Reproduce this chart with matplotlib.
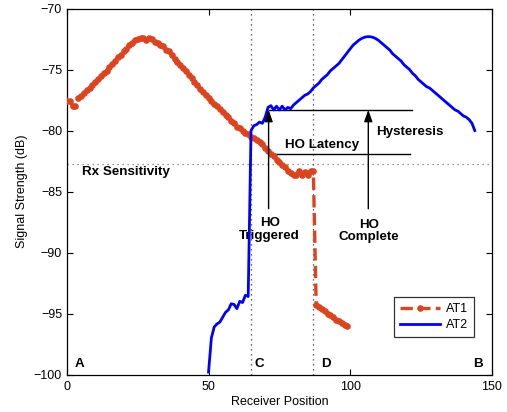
import matplotlib
matplotlib.use("Agg")
import matplotlib.pyplot as plt

plt.rcParams['font.family'] = ['Liberation Sans', 'DejaVu Sans']

# AT1 (serving antenna) samples
at1_x = list(range(0, 88)) + list(range(88, 100))
at1_y = [-77.6, -77.6, -78.0, -78.0, -77.3, -77.2, -76.9, -76.7, -76.5, -76.3,
         -76.0, -75.8, -75.5, -75.3, -75.1, -74.8, -74.5, -74.3, -74.0, -73.8,
         -73.5, -73.3, -73.0, -72.8, -72.6, -72.5, -72.4, -72.4, -72.6, -72.4,
         -72.5, -72.7, -72.8, -73.0, -73.1, -73.4, -73.5, -73.8, -74.1, -74.4,
         -74.6, -74.9, -75.1, -75.4, -75.7, -76.0, -76.3, -76.6, -76.8, -77.1,
         -77.3, -77.6, -77.8, -78.0, -78.2, -78.5, -78.7, -78.9, -79.2, -79.4,
         -79.7, -79.8, -80.0, -80.2, -80.3, -80.5, -80.6, -80.8, -80.9, -81.1,
         -81.4, -81.7, -81.9, -82.1, -82.4, -82.6, -82.8, -83.0, -83.3, -83.5,
         -83.6, -83.6, -83.3, -83.6, -83.4, -83.6, -83.3, -83.3,
         -94.3, -94.5, -94.6, -94.8, -95.0, -95.1, -95.3, -95.5, -95.6, -95.8,
         -95.9, -96.0]

# AT2 (target antenna) samples
at2_x = list(range(50, 145))
at2_y = [-99.8, -97.0, -96.1, -95.85, -95.7, -95.3, -94.9, -94.7, -94.2, -94.25,
         -94.6, -94.0, -94.1, -93.5, -93.6, -80.0, -79.6, -79.5, -79.3, -79.4,
         -78.9, -78.1, -77.95, -78.3, -78.0, -78.3, -78.0, -78.3, -78.1, -78.2,
         -77.9, -77.7, -77.5, -77.3, -77.1, -77.0, -76.8, -76.5, -76.3, -76.1,
         -75.8, -75.6, -75.4, -75.1, -74.9, -74.7, -74.5, -74.2, -73.9, -73.6,
         -73.3, -73.0, -72.8, -72.6, -72.45, -72.35, -72.3, -72.3, -72.35, -72.45,
         -72.6, -72.8, -73.0, -73.2, -73.4, -73.7, -73.9, -74.1, -74.3, -74.6,
         -74.8, -75.0, -75.3, -75.5, -75.8, -76.0, -76.2, -76.4, -76.5, -76.7,
         -76.9, -77.1, -77.3, -77.5, -77.7, -77.9, -78.1, -78.3, -78.4, -78.6,
         -78.8, -78.9, -79.1, -79.4, -80.0]

series_labels = ['AT1', 'AT2']
x_ticks = [0, 50, 100, 150]
y_ticks = [-100, -95, -90, -85, -80, -75, -70]
rx_sensitivity = -82.7
pos_C = 65
pos_D = 87
hysteresis_level = -78.3
latency_level = -81.9
ho_trigger_x = 71.2
ho_complete_x = 106.4

red = '#DC4420'
blue = '#0000FF'

fig = plt.figure(figsize=(5.07, 4.12), dpi=100)
ax = fig.add_axes([0.132, 0.091, 0.838, 0.888])

# reference lines
ax.axhline(rx_sensitivity, color='0.45', linestyle=(0, (1, 3)), linewidth=0.9, zorder=1)
ax.axvline(pos_C, color='0.2', linestyle=(0, (1, 3)), linewidth=0.9, zorder=1)
ax.axvline(pos_D, color='0.2', linestyle=(0, (1, 3)), linewidth=0.9, zorder=1)

ax.plot(at1_x, at1_y, linestyle='--', color=red, linewidth=2.4, marker='.',
        markersize=7.5, label=series_labels[0], zorder=3)
ax.plot(at2_x, at2_y, linestyle='-', color=blue, linewidth=2.0,
        label=series_labels[1], zorder=4)

# annotation lines
ax.plot([ho_trigger_x, 122], [hysteresis_level, hysteresis_level], color='k', linewidth=1.0, zorder=2)
ax.plot([ho_trigger_x, 121], [latency_level, latency_level], color='k', linewidth=1.0, zorder=2)

arrow_kw = dict(arrowstyle='-|>,head_length=0.7,head_width=0.25', color='k',
                linewidth=1.0, shrinkA=0, shrinkB=0)
ax.annotate('', xy=(ho_trigger_x, hysteresis_level), xytext=(ho_trigger_x, -86.4),
            arrowprops=arrow_kw, zorder=5)
ax.annotate('', xy=(ho_complete_x, hysteresis_level), xytext=(ho_complete_x, -86.4),
            arrowprops=arrow_kw, zorder=5)

bold = dict(fontsize=9.6, fontweight='bold')
ax.text(71.6, -88.1, 'HO\nTriggered', ha='center', va='center', linespacing=1.05, **bold)
ax.text(106.6, -88.25, 'HO\nComplete', ha='center', va='center', linespacing=1.05, **bold)
ax.text(109, -80.1, 'Hysteresis', ha='left', va='center', **bold)
ax.text(90.2, -81.2, 'HO Latency', ha='center', va='center', **bold)
ax.text(5.2, -83.4, 'Rx Sensitivity', ha='left', va='center', **bold)
ax.text(4.6, -99.1, 'A', ha='center', va='center', **bold)
ax.text(67.8, -99.1, 'C', ha='center', va='center', **bold)
ax.text(91.4, -99.1, 'D', ha='center', va='center', **bold)
ax.text(145, -99.1, 'B', ha='center', va='center', **bold)

ax.set_xlim(0, 150)
ax.set_ylim(-100, -70)
ax.set_xticks(x_ticks)
ax.set_yticks(y_ticks)
ax.set_xticklabels([str(t) for t in x_ticks])
ax.set_yticklabels([str(t).replace('-', '\u2212') for t in y_ticks])
ax.tick_params(direction='in', top=True, right=True, labelsize=9, length=4, width=0.8)
ax.tick_params(axis='x', pad=5)
for s in ax.spines.values():
    s.set_linewidth(0.9)

ax.set_xlabel('Receiver Position', fontsize=9, labelpad=2)
ax.set_ylabel('Signal Strength (dB)', fontsize=9, labelpad=4)

leg = ax.legend(loc='lower right', bbox_to_anchor=(0.958, 0.1025), borderaxespad=0,
                fontsize=9, frameon=True, fancybox=False, edgecolor='k',
                handlelength=3.2, borderpad=0.45, labelspacing=0.35, handletextpad=0.5)
leg.get_frame().set_linewidth(0.9)

fig.savefig('out.png', dpi=100)
